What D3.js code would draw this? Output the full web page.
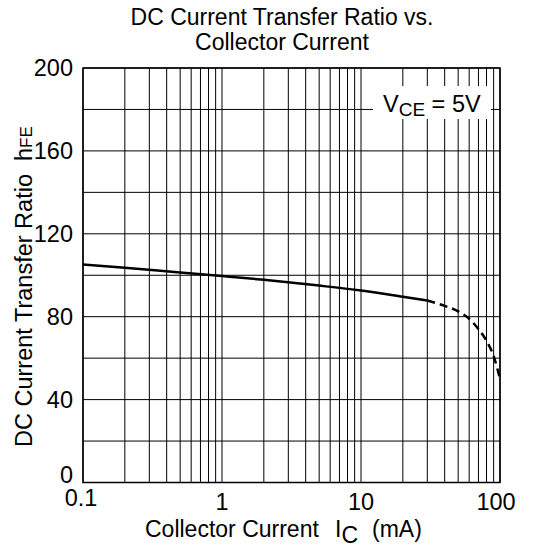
<!DOCTYPE html>
<html><head>
<meta charset="utf-8">
<style>
body { margin: 0; background: white; }
svg { display: block; font-family: 'Liberation Sans', Arial, sans-serif; }
text { white-space: pre; }
</style>
</head>
<body>
<svg id="chart" width="536" height="550"></svg>
<script src="https://d3js.org/d3.v7.min.js"></script>
<script>
// collector current (mA) vs hFE
const currentSolid = [0.1, 0.2, 0.5, 1, 2, 5, 10, 20, 30];
const hfeSolid     = [105.2, 103.6, 101.3, 99.6, 97.8, 95.0, 92.6, 89.6, 87.8];
const currentDash  = [30, 40, 50, 60, 70, 80, 90, 100];
const hfeDash      = [87.8, 85.2, 82.6, 79.0, 74.0, 68.3, 61.0, 50.0];

const xTicks = [0.1, 1, 10, 100];
const xTickLabels = ["0.1", "1", "10", "100"];
const yTicks = [0, 40, 80, 120, 160, 200];

const svg = d3.select("#chart");
const plotL = 83, plotR = 500, plotT = 68, plotB = 482.5;

const x = d3.scaleLog().domain([0.1, 100]).range([plotL, plotR]);
const y = d3.scaleLinear().domain([0, 200]).range([plotB, plotT]);

// title
svg.append("text")
  .attr("x", 282).attr("y", 25)
  .attr("text-anchor", "middle")
  .attr("font-size", 23)
  .text("DC Current Transfer Ratio vs.");
svg.append("text")
  .attr("x", 282).attr("y", 50)
  .attr("text-anchor", "middle")
  .attr("font-size", 23)
  .text("Collector Current");

// grid
const grid = svg.append("g").attr("stroke", "#000").attr("stroke-width", 1);
grid.selectAll("line.v")
  .data(x.ticks())
  .join("line")
  .attr("class", "v")
  .attr("x1", d => x(d)).attr("x2", d => x(d))
  .attr("y1", plotT).attr("y2", plotB);
grid.selectAll("line.h")
  .data(d3.range(0, 201, 20))
  .join("line")
  .attr("class", "h")
  .attr("x1", plotL).attr("x2", plotR)
  .attr("y1", d => y(d)).attr("y2", d => y(d));

// frame
svg.append("rect")
  .attr("x", plotL).attr("y", plotT)
  .attr("width", plotR - plotL).attr("height", plotB - plotT)
  .attr("fill", "none").attr("stroke", "#000").attr("stroke-width", 1.5);

// condition label with white box over grid
svg.append("rect")
  .attr("x", 373).attr("y", 86)
  .attr("width", 118).attr("height", 33)
  .attr("fill", "white");
const vce = svg.append("text")
  .attr("x", 383).attr("y", 112)
  .attr("font-size", 23.5);
vce.append("tspan").text("V");
vce.append("tspan").attr("font-size", 19).attr("dy", 4).text("CE");
vce.append("tspan").attr("dy", -4).text(" = 5V");

// curve
const line = d3.line()
  .x(d => x(d[0]))
  .y(d => y(d[1]))
  .curve(d3.curveMonotoneX);

svg.append("path")
  .datum(d3.zip(currentSolid, hfeSolid))
  .attr("d", line)
  .attr("fill", "none")
  .attr("stroke", "#000")
  .attr("stroke-width", 2.5);

svg.append("path")
  .datum(d3.zip(currentDash, hfeDash))
  .attr("d", line)
  .attr("fill", "none")
  .attr("stroke", "#000")
  .attr("stroke-width", 2.5)
  .attr("stroke-dasharray", "8,5");

// y tick labels
svg.selectAll("text.ytick")
  .data(yTicks)
  .join("text")
  .attr("class", "ytick")
  .attr("x", 73)
  .attr("y", d => y(d) + (d === 0 ? 0 : 8))
  .attr("text-anchor", "end")
  .attr("font-size", 23.5)
  .text(d => d);

// x tick labels
svg.selectAll("text.xtick")
  .data(xTicks)
  .join("text")
  .attr("class", "xtick")
  .attr("x", (d, i) => x(d) + (i === 0 ? -2 : i === 3 ? -4 : 0))
  .attr("y", (d, i) => i === 0 ? 506 : 510)
  .attr("text-anchor", "middle")
  .attr("font-size", 23.5)
  .text((d, i) => xTickLabels[i]);

// x axis title
const xt = svg.append("text")
  .attr("x", 145).attr("y", 537)
  .attr("font-size", 23);
xt.append("tspan").text("Collector Current");
xt.append("tspan").attr("x", 335).text("I");
xt.append("tspan").attr("dy", 6).text("C");
xt.append("tspan").attr("dy", -6).attr("x", 372).text("(mA)");

// y axis title
const yt = svg.append("text")
  .attr("transform", "translate(32,447) rotate(-90)")
  .attr("font-size", 23.5);
yt.append("tspan").text("DC Current Transfer Ratio  h");
yt.append("tspan").attr("font-size", 17).text("FE");
</script>
</body>
</html>
